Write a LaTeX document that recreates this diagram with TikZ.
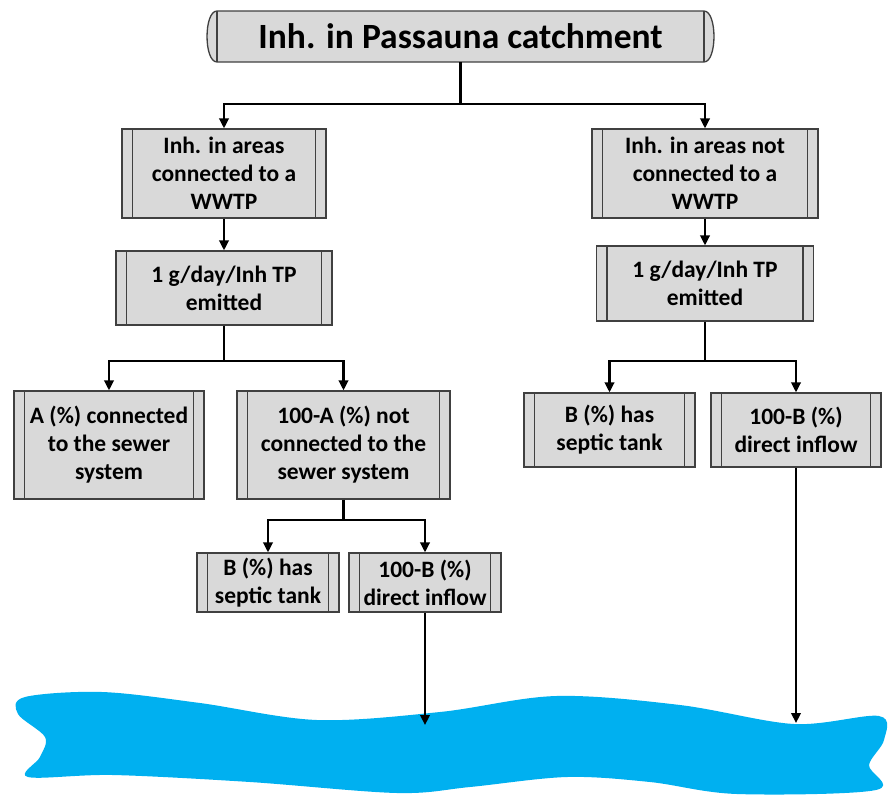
\documentclass[tikz,border=0pt]{standalone}
\usepackage{fontspec}
\setmainfont{Carlito}
\usetikzlibrary{arrows.meta}
\definecolor{boxfill}{HTML}{D9D9D9}
\definecolor{boxline}{HTML}{404040}
\definecolor{water}{HTML}{00B0F0}
\newcommand\bxfont{\fontsize{23.5}{28}\selectfont\bfseries}
\newcommand\tpfont{\fontsize{35.5}{40}\selectfont\bfseries}
\tikzset{
  proc/.style={draw=boxline, fill=boxfill, line width=1.3pt, inner sep=0pt, align=center, font=\bxfont,
    path picture={\draw[boxline,line width=1.3pt]
      ([xshift=10.5pt]path picture bounding box.north west) -- ([xshift=10.5pt]path picture bounding box.south west)
      ([xshift=-10.5pt]path picture bounding box.north east) -- ([xshift=-10.5pt]path picture bounding box.south east);}},
  arr/.style={line width=2.2pt, -{Triangle[length=10pt,width=9.5pt]}},
  ln/.style={line width=2.2pt}
}
\begin{document}
\begin{tikzpicture}[x=1pt,y=-1pt]
\useasboundingbox (0,0) rectangle (889,796);
% water
\fill[water] plot[smooth cycle, tension=0.55] coordinates {
  (25,697) (102,692) (200,703) (317,720) (440,712) (556,696) (680,705) (794,724) (879,716)
  (884,740) (869,765) (876,790)
  (737,794) (650,782) (567,777) (470,787) (397,793) (250,782) (113,775) (28,777)
  (40,757) (45,737) (18,714)};
% top terminator shape
\filldraw[fill=boxfill, draw=boxline, line width=1.3pt]
  (217,11) -- (704,11) .. controls (717.3,11) and (717.3,62) .. (704,62)
  -- (217,62) .. controls (203.7,62) and (203.7,11) .. (217,11) -- cycle;
\draw[boxline, line width=1.3pt] (217,11) -- (217,62) (704,11) -- (704,62);
\node (top) [minimum width=507pt, minimum height=51pt, inner sep=0pt, font=\tpfont] at (460.5,36.5) {Inh. in Passauna catchment};
% boxes
\node (L1) [proc, minimum width=204pt, minimum height=89pt] at (224,173.5) {Inh. in areas\\connected to a\\WWTP};
\node (R1) [proc, minimum width=226pt, minimum height=89pt] at (705,173.5) {Inh. in areas not\\connected to a\\WWTP};
\node (L2) [proc, minimum width=216pt, minimum height=74pt] at (224,288) {1 g/day/Inh TP\\emitted};
\node (R2) [proc, minimum width=217pt, minimum height=75pt] at (705,283.5) {1 g/day/Inh TP\\emitted};
\node (L3a) [proc, minimum width=190pt, minimum height=108pt] at (109,445) {A (\%) connected\\to the sewer\\system};
\node (L3b) [proc, minimum width=213pt, minimum height=108pt] at (343.5,445) {100-A (\%) not\\connected to the\\sewer system};
\node (L4a) [proc, minimum width=142pt, minimum height=59pt] at (268,582.5) {B (\%) has\\septic tank};
\node (L4b) [proc, minimum width=152pt, minimum height=59pt] at (425,582.5) {100-B (\%)\\direct inflow};
\node (R3a) [proc, minimum width=171pt, minimum height=74pt] at (609.5,430) {B (\%) has\\septic tank};
\node (R3b) [proc, minimum width=170pt, minimum height=74pt] at (796,430) {100-B (\%)\\direct inflow};
% junctions
\coordinate (j0) at (460.5,104);
\coordinate (j1) at (224,361);
\coordinate (j2) at (705,361);
\coordinate (j3) at (343.5,520);
\coordinate (w1) at (425,725);
\coordinate (w2) at (796,723);
% connectors
\draw[ln] (top.south) -- (j0);
\draw[arr] (j0) -| (L1.north);
\draw[arr] (j0) -| (R1.north);
\draw[arr] (L1.south) -- (L2.north);
\draw[arr] (R1.south) -- (R2.north);
\draw[ln] (L2.south) -- (j1);
\draw[arr] (j1) -| (L3a.north);
\draw[arr] (j1) -| (L3b.north);
\draw[ln] (R2.south) -- (j2);
\draw[arr] (j2) -| (R3a.north);
\draw[arr] (j2) -| (R3b.north);
\draw[ln] (L3b.south) -- (j3);
\draw[arr] (j3) -| (L4a.north);
\draw[arr] (j3) -| (L4b.north);
\draw[arr] (L4b.south) -- (w1);
\draw[arr] (R3b.south) -- (w2);
\end{tikzpicture}
\end{document}
